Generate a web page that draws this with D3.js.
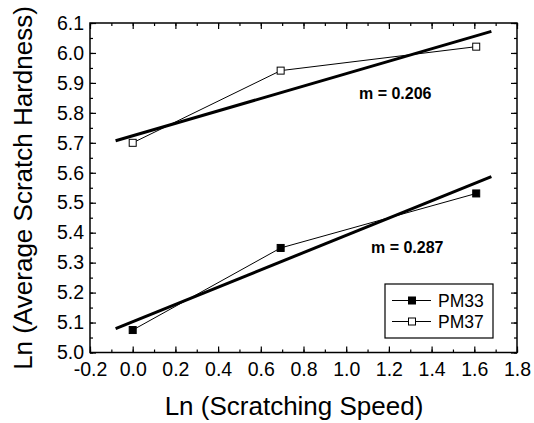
<!DOCTYPE html>
<html>
<head>
<meta charset="utf-8">
<script src="https://cdn.jsdelivr.net/npm/d3@7"></script>
<style>
  body { margin: 0; background: #fff; }
  svg { display: block; font-family: "Liberation Sans", Arial, sans-serif; }
</style>
</head>
<body>
<svg id="chart" width="534" height="423"></svg>
<script>
// Data
const speedLn = [0, 0.693, 1.609];
const pm33 = [5.075, 5.349, 5.531];
const pm37 = [5.700, 5.941, 6.021];
// Fitted lines: [x start, x end], [y start, y end]
const fitX = [-0.08, 1.68];
const fit33 = [5.080, 5.587];
const fit37 = [5.707, 6.072];
const slopeLabels = ["m = 0.287", "m = 0.206"];
const xTicks = [-0.2, 0.0, 0.2, 0.4, 0.6, 0.8, 1.0, 1.2, 1.4, 1.6, 1.8];
const yTicks = [5.0, 5.1, 5.2, 5.3, 5.4, 5.5, 5.6, 5.7, 5.8, 5.9, 6.0, 6.1];

const margin = { left: 90, right: 17, top: 23, bottom: 70.5 };
const W = 534, H = 423;
const svg = d3.select("#chart");

const x = d3.scaleLinear().domain([-0.2, 1.8]).range([margin.left, W - margin.right]);
const y = d3.scaleLinear().domain([5.0, 6.1]).range([H - margin.bottom, margin.top]);

const xMinor = d3.range(-0.2, 1.81, 0.1).map(d => +d.toFixed(2));
const yMinor = d3.range(5.0, 6.101, 0.05).map(d => +d.toFixed(2));

// Axes with inward ticks on all four sides
function styleAxis(g) {
  g.select(".domain").remove();
  g.selectAll(".tick line").attr("stroke", "#000").attr("stroke-width", 1.2);
}

const yB = H - margin.bottom, yT = margin.top;
const xL = margin.left, xR = W - margin.right;
const fmt = d => d3.format(".1f")(d).replace("−", "-");

svg.append("g").attr("transform", `translate(0,${yB})`)
  .call(d3.axisBottom(x).tickValues(xMinor).tickSize(-3).tickFormat(""))
  .call(styleAxis);
svg.append("g").attr("transform", `translate(0,${yB})`)
  .call(d3.axisBottom(x).tickValues(xTicks).tickSize(-6).tickPadding(10).tickFormat(fmt))
  .call(styleAxis)
  .call(g => g.selectAll("text").attr("font-size", 19.5).attr("fill", "#000")
    .attr("font-family", "'Liberation Sans', Arial, sans-serif"));

svg.append("g").attr("transform", `translate(0,${yT})`)
  .call(d3.axisTop(x).tickValues(xMinor).tickSize(-3).tickFormat(""))
  .call(styleAxis);
svg.append("g").attr("transform", `translate(0,${yT})`)
  .call(d3.axisTop(x).tickValues(xTicks).tickSize(-6).tickFormat(""))
  .call(styleAxis);

svg.append("g").attr("transform", `translate(${xL},0)`)
  .call(d3.axisLeft(y).tickValues(yMinor).tickSize(-3).tickFormat(""))
  .call(styleAxis);
svg.append("g").attr("transform", `translate(${xL},0)`)
  .call(d3.axisLeft(y).tickValues(yTicks).tickSize(-6).tickPadding(6).tickFormat(fmt))
  .call(styleAxis)
  .call(g => g.selectAll("text").attr("font-size", 19.5).attr("fill", "#000")
    .attr("font-family", "'Liberation Sans', Arial, sans-serif"));

svg.append("g").attr("transform", `translate(${xR},0)`)
  .call(d3.axisRight(y).tickValues(yMinor).tickSize(-3).tickFormat(""))
  .call(styleAxis);
svg.append("g").attr("transform", `translate(${xR},0)`)
  .call(d3.axisRight(y).tickValues(yTicks).tickSize(-6).tickFormat(""))
  .call(styleAxis);

// Frame
svg.append("rect")
  .attr("x", xL).attr("y", yT)
  .attr("width", xR - xL).attr("height", yB - yT)
  .attr("fill", "none").attr("stroke", "#000").attr("stroke-width", 1.5);

// Fit lines
const line = d3.line().x(d => x(d[0])).y(d => y(d[1]));
[fit33, fit37].forEach(f => {
  svg.append("path")
    .attr("d", line(fitX.map((xv, i) => [xv, f[i]])))
    .attr("fill", "none").attr("stroke", "#000").attr("stroke-width", 3);
});

// Data series
const series = [
  { name: "PM33", values: pm33, fill: "#000" },
  { name: "PM37", values: pm37, fill: "#fff" }
];
const ms = 7;
series.forEach(s => {
  const pts = speedLn.map((xv, i) => [xv, s.values[i]]);
  svg.append("path")
    .attr("d", line(pts))
    .attr("fill", "none").attr("stroke", "#000").attr("stroke-width", 1);
  svg.append("g").selectAll("rect")
    .data(pts)
    .join("rect")
    .attr("x", d => x(d[0]) - ms / 2)
    .attr("y", d => y(d[1]) - ms / 2)
    .attr("width", ms).attr("height", ms)
    .attr("fill", s.fill).attr("stroke", "#000").attr("stroke-width", 1);
});

// Slope labels
svg.append("text").attr("x", 371).attr("y", 253)
  .attr("font-size", 16).attr("font-weight", "bold").text(slopeLabels[0]);
svg.append("text").attr("x", 359).attr("y", 99)
  .attr("font-size", 16).attr("font-weight", "bold").text(slopeLabels[1]);

// Legend
const lg = svg.append("g");
lg.append("rect").attr("x", 385).attr("y", 284).attr("width", 108).attr("height", 54)
  .attr("fill", "#fff").attr("stroke", "#000").attr("stroke-width", 1.2);
series.forEach((s, i) => {
  const ly = 300.5 + i * 21;
  lg.append("line").attr("x1", 392).attr("x2", 431).attr("y1", ly).attr("y2", ly)
    .attr("stroke", "#000").attr("stroke-width", 1);
  lg.append("rect").attr("x", 412 - ms / 2).attr("y", ly - ms / 2)
    .attr("width", ms).attr("height", ms)
    .attr("fill", s.fill).attr("stroke", "#000").attr("stroke-width", 1);
  lg.append("text").attr("x", 438).attr("y", ly + 6.5)
    .attr("font-size", 17.5).text(s.name);
});

// Axis titles
svg.append("text")
  .attr("x", 294).attr("y", 415)
  .attr("text-anchor", "middle").attr("font-size", 26)
  .text("Ln (Scratching Speed)");
svg.append("text")
  .attr("transform", `translate(32,188) rotate(-90)`)
  .attr("text-anchor", "middle").attr("font-size", 26)
  .text("Ln (Average Scratch Hardness)");
</script>
</body>
</html>
